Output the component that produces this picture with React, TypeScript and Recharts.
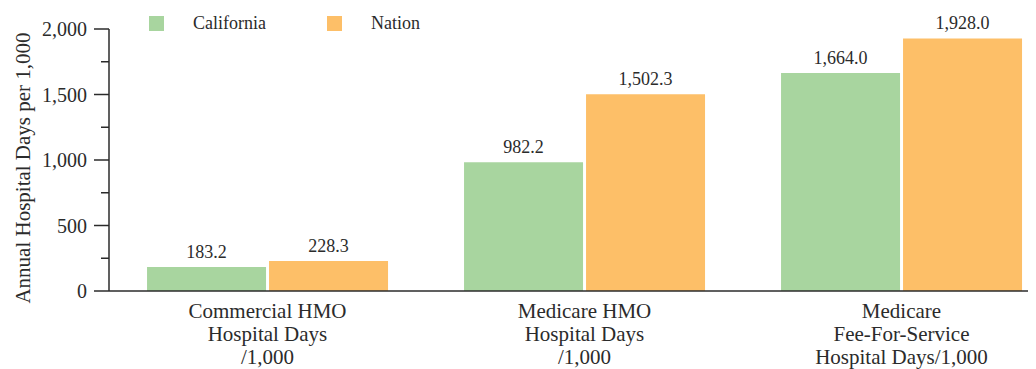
import { BarChart, Bar, XAxis, YAxis, Legend, LabelList } from 'recharts';

const categories = [
  'Commercial HMO\nHospital Days\n/1,000',
  'Medicare HMO\nHospital Days\n/1,000',
  'Medicare\nFee-For-Service\nHospital Days/1,000',
];
const california = [183.2, 982.2, 1664.0];
const nation = [228.3, 1502.3, 1928.0];
const yTicks = [0, 250, 500, 750, 1000, 1250, 1500, 1750, 2000];

const data = categories.map((name, i) => ({
  name,
  california: california[i],
  nation: nation[i],
}));

const FONT = '"Liberation Serif", "Times New Roman", serif';
const INK = '#2b2b2b';
const GREEN = '#a8d59f';
const ORANGE = '#fdbf68';

const fmt = (v: number) =>
  v.toLocaleString('en-US', { minimumFractionDigits: 1, maximumFractionDigits: 1 });

function YTick(props: any) {
  const { x, y, payload } = props;
  const axisX = x + 22;
  const major = payload.value % 500 === 0;
  return (
    <g>
      <line x1={axisX - (major ? 15 : 8)} x2={axisX} y1={y} y2={y} stroke={INK} strokeWidth={1.5} />
      {major && (
        <text x={x} y={y} dy="0.36em" textAnchor="end" fontSize={20} fontFamily={FONT} fill={INK}>
          {payload.value.toLocaleString('en-US')}
        </text>
      )}
    </g>
  );
}

function XTick(props: any) {
  const { x, y, payload } = props;
  const lines = String(payload.value).split('\n');
  return (
    <text x={x} y={y} textAnchor="middle" fontSize={21} fontFamily={FONT} fill={INK}>
      {lines.map((l, i) => (
        <tspan key={i} x={x} y={y + 27 + i * 23}>
          {l}
        </tspan>
      ))}
    </text>
  );
}

function LegendContent(props: any) {
  const { payload } = props;
  return (
    <div style={{ display: 'flex', fontFamily: FONT, fontSize: 18, color: INK }}>
      {payload.map((p: any) => (
        <div key={p.value} style={{ display: 'flex', alignItems: 'center', width: 178 }}>
          <span style={{ width: 15, height: 15, background: p.color, marginRight: 29 }} />
          <span>{p.value}</span>
        </div>
      ))}
    </div>
  );
}

function YTitle(props: any) {
  const { viewBox } = props;
  const cx = viewBox.x + 15;
  const cy = viewBox.y + viewBox.height / 2 + 8;
  return (
    <text
      x={cx}
      y={cy}
      transform={`rotate(-90, ${cx}, ${cy})`}
      textAnchor="middle"
      dominantBaseline="central"
      fontSize={21}
      fontFamily={FONT}
      fill={INK}
    >
      Annual Hospital Days per 1,000
    </text>
  );
}

export default function App() {
  return (
    <div style={{ width: 1028, height: 361, overflow: 'hidden', background: '#fff' }}>
      <BarChart
        width={1062}
        height={361}
        data={data}
        margin={{ top: 21, right: 10, left: 0, bottom: 0 }}
        barCategoryGap="12%"
        barGap={3}
      >
        <XAxis
          dataKey="name"
          height={78}
          tickLine={false}
          tickSize={0}
          tickMargin={0}
          stroke={INK}
          strokeWidth={1.5}
          interval={0}
          tick={<XTick />}
        />
        <YAxis
          width={101}
          domain={[0, 2000]}
          ticks={yTicks}
          interval={0}
          tickLine={false}
          tickSize={15}
          tickMargin={7}
          stroke={INK}
          strokeWidth={1.5}
          tick={<YTick />}
          label={<YTitle />}
        />
        <Legend
          layout="horizontal"
          verticalAlign="middle"
          align="center"
          content={<LegendContent />}
          wrapperStyle={{ top: 5, left: 141, width: 400 }}
        />
        <Bar dataKey="california" name="California" fill={GREEN} isAnimationActive={false}>
          <LabelList
            dataKey="california"
            position="top"
            offset={9}
            formatter={(v: any) => fmt(Number(v))}
            style={{ fontSize: 18, fontFamily: FONT, fill: INK }}
          />
        </Bar>
        <Bar dataKey="nation" name="Nation" fill={ORANGE} isAnimationActive={false}>
          <LabelList
            dataKey="nation"
            position="top"
            offset={9}
            formatter={(v: any) => fmt(Number(v))}
            style={{ fontSize: 18, fontFamily: FONT, fill: INK }}
          />
        </Bar>
      </BarChart>
    </div>
  );
}
